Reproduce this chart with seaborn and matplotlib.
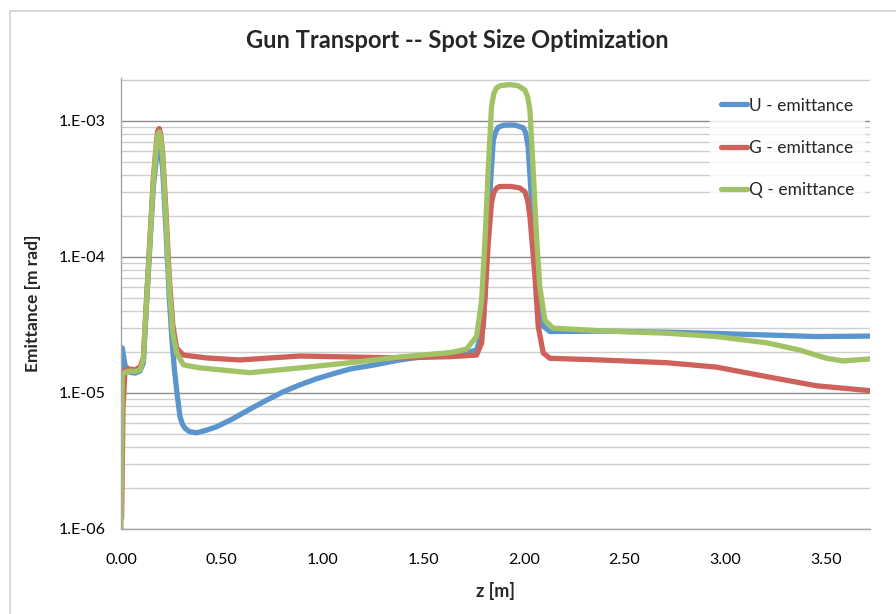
import numpy as np
import pandas as pd
import matplotlib
matplotlib.use("Agg")
import matplotlib.pyplot as plt
import matplotlib.ticker as mticker
from matplotlib.patches import Rectangle
import seaborn as sns

# values
u_z = [0.002, 0.006, 0.02, 0.045, 0.07, 0.094, 0.111, 0.127, 0.144, 0.16, 0.177, 0.183,
       0.19, 0.197, 0.207, 0.223, 0.24, 0.252, 0.265, 0.278, 0.293, 0.305, 0.318, 0.34,
       0.376, 0.42, 0.475, 0.55, 0.64, 0.72, 0.805, 0.89, 0.97, 1.05, 1.137, 1.25,
       1.385, 1.5, 1.634, 1.733, 1.766, 1.8, 1.816, 1.832, 1.849, 1.862, 1.874, 1.9,
       1.93, 1.96, 1.998, 2.01, 2.022, 2.039, 2.056, 2.072, 2.097, 2.13, 2.378, 2.71,
       2.958, 3.206, 3.454, 3.72]
u_e = [1.5e-5, 2.15e-5, 1.6e-5, 1.42e-5, 1.4e-5, 1.45e-5, 1.66e-5, 4.5e-5, 1.25e-4,
       3.2e-4, 5.6e-4, 6.3e-4, 6.5e-4, 5.9e-4, 4.4e-4, 1.6e-4, 5.0e-5, 2.6e-5, 1.5e-5,
       1.0e-5, 6.7e-6, 5.9e-6, 5.5e-6, 5.2e-6, 5.1e-6, 5.3e-6, 5.65e-6, 6.4e-6, 7.6e-6,
       8.8e-6, 1.02e-5, 1.15e-5, 1.27e-5, 1.38e-5, 1.5e-5, 1.6e-5, 1.75e-5, 1.85e-5,
       1.97e-5, 2.01e-5, 2.07e-5, 3.1e-5, 9.5e-5, 2.95e-4, 7.2e-4, 8.4e-4, 9.0e-4,
       9.3e-4, 9.35e-4, 9.3e-4, 8.9e-4, 8.2e-4, 6.5e-4, 2.6e-4, 9.5e-5, 4.6e-5, 3.1e-5,
       2.83e-5, 2.85e-5, 2.8e-5, 2.74e-5, 2.67e-5, 2.6e-5, 2.62e-5]

g_z = [0.003, 0.01, 0.02, 0.045, 0.07, 0.094, 0.111, 0.127, 0.144, 0.16, 0.177, 0.183,
       0.19, 0.197, 0.207, 0.223, 0.24, 0.257, 0.276, 0.31, 0.425, 0.59, 0.89, 1.137,
       1.385, 1.634, 1.766, 1.791, 1.807, 1.824, 1.84, 1.852, 1.865, 1.88, 1.937, 1.98,
       2.006, 2.02, 2.031, 2.056, 2.072, 2.097, 2.13, 2.378, 2.71, 2.958, 3.206, 3.454,
       3.72]
g_e = [1.2e-6, 7.9e-6, 1.48e-5, 1.5e-5, 1.48e-5, 1.55e-5, 1.8e-5, 5.0e-5, 1.4e-4,
       3.7e-4, 7.3e-4, 8.5e-4, 8.8e-4, 8.0e-4, 5.8e-4, 2.2e-4, 7.0e-5, 3.2e-5, 2.14e-5,
       1.9e-5, 1.81e-5, 1.75e-5, 1.87e-5, 1.84e-5, 1.81e-5, 1.85e-5, 1.9e-5, 2.33e-5,
       4.8e-5, 1.27e-4, 2.5e-4, 3.0e-4, 3.2e-4, 3.3e-4, 3.3e-4, 3.22e-4, 3.02e-4,
       2.6e-4, 1.98e-4, 7.2e-5, 3.1e-5, 1.97e-5, 1.8e-5, 1.75e-5, 1.67e-5, 1.55e-5,
       1.32e-5, 1.13e-5, 1.04e-5]

q_z = [0.0, 0.006, 0.02, 0.045, 0.07, 0.094, 0.111, 0.127, 0.144, 0.16, 0.177, 0.183,
       0.19, 0.197, 0.207, 0.223, 0.24, 0.257, 0.276, 0.31, 0.392, 0.64, 0.889, 1.137,
       1.385, 1.634, 1.716, 1.766, 1.791, 1.807, 1.824, 1.84, 1.852, 1.865, 1.885, 1.93,
       1.97, 2.006, 2.02, 2.031, 2.047, 2.064, 2.08, 2.105, 2.145, 2.378, 2.71, 2.958,
       3.206, 3.37, 3.504, 3.585, 3.72]
q_e = [1.0e-6, 1.35e-5, 1.42e-5, 1.45e-5, 1.44e-5, 1.48e-5, 1.75e-5, 4.8e-5, 1.33e-4,
       3.5e-4, 6.9e-4, 7.9e-4, 8.3e-4, 7.6e-4, 5.4e-4, 1.97e-4, 6.0e-5, 2.76e-5,
       1.97e-5, 1.61e-5, 1.53e-5, 1.41e-5, 1.53e-5, 1.67e-5, 1.84e-5, 1.98e-5, 2.1e-5,
       2.6e-5, 4.8e-5, 1.27e-4, 4.4e-4, 1.27e-3, 1.6e-3, 1.75e-3, 1.82e-3, 1.85e-3,
       1.82e-3, 1.69e-3, 1.5e-3, 1.2e-3, 4.4e-4, 1.41e-4, 6.05e-5, 3.44e-5, 3.0e-5,
       2.87e-5, 2.75e-5, 2.6e-5, 2.34e-5, 2.07e-5, 1.8e-5, 1.72e-5, 1.78e-5]

series_names = ["U - emittance", "G - emittance", "Q - emittance"]
series_colors = ["#5B95CD", "#CE625B", "#A2C266"]

ytick_vals = [1e-6, 1e-5, 1e-4, 1e-3]
ytick_labels = ["1.E-06", "1.E-05", "1.E-04", "1.E-03"]
xtick_vals = [0.0, 0.5, 1.0, 1.5, 2.0, 2.5, 3.0, 3.5]

sns.set_style("white")
plt.rcParams["font.family"] = ["Lato", "DejaVu Sans"]

df = pd.concat([
    pd.DataFrame({"z": u_z, "e": u_e, "s": series_names[0]}),
    pd.DataFrame({"z": g_z, "e": g_e, "s": series_names[1]}),
    pd.DataFrame({"z": q_z, "e": q_e, "s": series_names[2]}),
], ignore_index=True)

fig = plt.figure(figsize=(8.96, 6.14), dpi=100)
ax = fig.add_axes([121 / 896, 1 - 529 / 614, 749 / 896, 451 / 614])

sns.lineplot(data=df, x="z", y="e", hue="s", palette=series_colors, sort=False,
             estimator=None, linewidth=3.8, ax=ax)
for line in ax.get_lines():
    line.set_solid_joinstyle("round")

ax.set_yscale("log")
ax.set_ylim(1e-6, 2.07e-3)
ax.set_xlim(0, 3.72)

ax.yaxis.set_major_locator(mticker.FixedLocator(ytick_vals))
ax.yaxis.set_major_formatter(mticker.FixedFormatter(ytick_labels))
ax.yaxis.set_minor_locator(mticker.LogLocator(base=10, subs=np.arange(2, 10)))
ax.yaxis.set_minor_formatter(mticker.NullFormatter())
ax.set_xticks(xtick_vals)
ax.xaxis.set_major_formatter(mticker.FormatStrFormatter("%.2f"))

ax.grid(True, which="major", axis="y", color="#8c8c8c", linewidth=1.0)
ax.grid(True, which="minor", axis="y", color="#cfcfcf", linewidth=1.0)
ax.set_axisbelow(True)

for side in ["top", "right"]:
    ax.spines[side].set_visible(False)
for side in ["left", "bottom"]:
    ax.spines[side].set_color("#a6a6a6")
    ax.spines[side].set_linewidth(1.0)
ax.tick_params(axis="both", which="major", direction="out", length=5, width=1,
               color="#a6a6a6", labelsize=11.5, labelcolor="#000000")
ax.tick_params(axis="y", which="minor", length=0)
ax.tick_params(axis="x", pad=12)
ax.tick_params(axis="y", pad=6)

ax.set_xlabel("z [m]", fontsize=13, fontweight="bold", labelpad=11)
ax.set_ylabel("Emittance [m rad]", fontsize=12.5, fontweight="bold", labelpad=13)
fig.text(457 / 896, 1 - 40 / 614, "Gun Transport -- Spot Size Optimization",
         ha="center", va="center", fontsize=17, fontweight="bold")

leg = ax.legend(loc="upper right", bbox_to_anchor=(1.004, 0.999), frameon=True,
                fontsize=12.5, labelspacing=1.5, handlelength=1.5, handletextpad=0.1,
                borderpad=0.6, fancybox=False)
leg.get_frame().set_facecolor("white")
leg.get_frame().set_edgecolor("white")
for line in leg.get_lines():
    line.set_linewidth(3.8)

fig.patches.append(Rectangle((10 / 896, -0.1), 1.2, 1.1 - 11 / 614, transform=fig.transFigure,
                             fill=False, edgecolor="#d0d0d0", linewidth=1.2))

fig.savefig("out.png", dpi=100)
